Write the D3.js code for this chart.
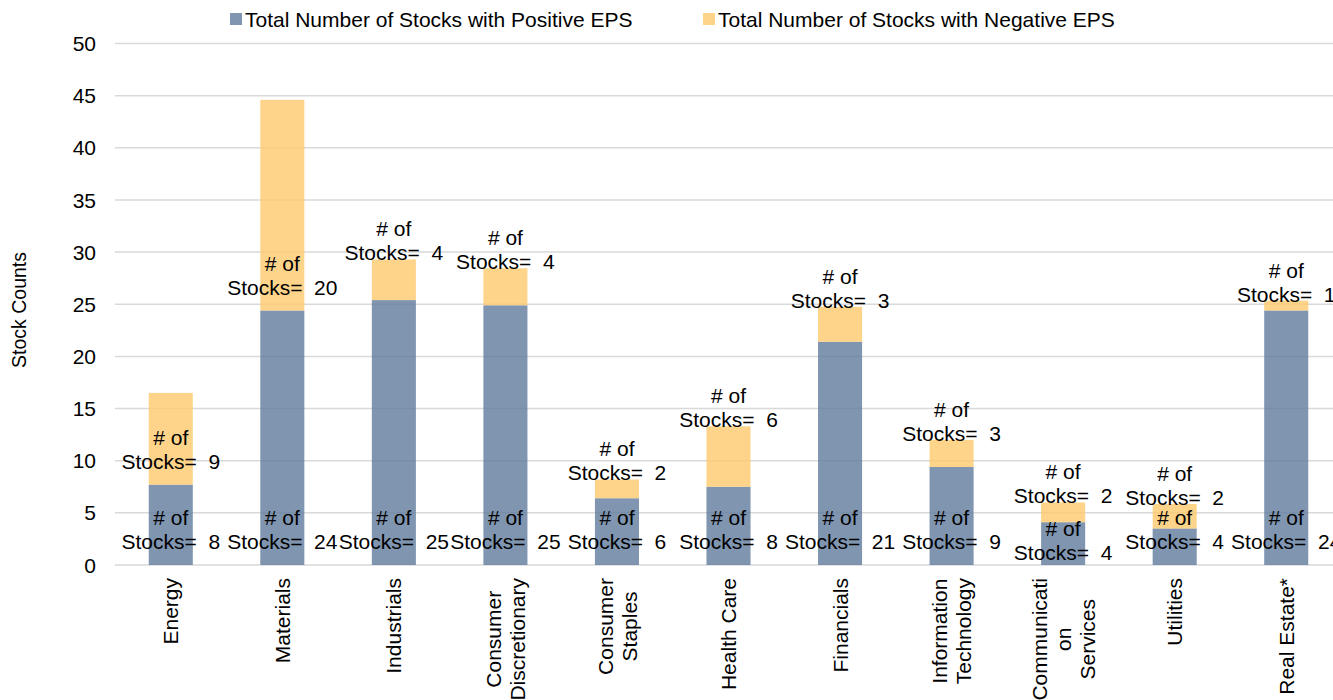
<!DOCTYPE html>
<html>
<head>
<meta charset="utf-8">
<script src="https://cdn.jsdelivr.net/npm/d3@7"></script>
<style>
  html, body { margin: 0; padding: 0; background: #fff; }
  svg { display: block; font-family: "Liberation Sans", Arial, sans-serif; }
</style>
</head>
<body>
<svg id="chart" width="1333" height="700"></svg>
<script>
// ---- data ----
const categories = ["Energy", "Materials", "Industrials", "Consumer\nDiscretionary", "Consumer\nStaples",
  "Health Care", "Financials", "Information\nTechnology", "Communicati\non\nServices", "Utilities", "Real Estate*"];
const positiveValues = [7.7, 24.4, 25.4, 24.9, 6.4, 7.5, 21.4, 9.4, 4.1, 3.5, 24.4];
const negativeValues = [8.8, 20.2, 3.9, 3.55, 1.8, 5.8, 3.35, 2.6, 1.9, 2.35, 0.95];
const positiveCounts = [8, 24, 25, 25, 6, 8, 21, 9, 4, 4, 24];
const negativeCounts = [9, 20, 4, 4, 2, 6, 3, 3, 2, 2, 1];
const seriesNames = ["Total Number of Stocks with Positive EPS", "Total Number of Stocks with Negative EPS"];
const yTicks = [0, 5, 10, 15, 20, 25, 30, 35, 40, 45, 50];
const yTitle = "Stock Counts";

// ---- layout ----
const colors = ["#5f7a9c", "#fec96d"];
const barOpacity = 0.8;
const fontSize = 21;
const svg = d3.select("#chart");

const x = d3.scaleBand().domain(categories).range([115, 1342]).paddingInner(0.605).paddingOuter(0.3025);
const y = d3.scaleLinear().domain([0, 50]).range([565, 43.5]);

// gridlines
svg.append("g").selectAll("line").data(yTicks).join("line")
  .attr("x1", 115).attr("x2", 1333)
  .attr("y1", d => y(d)).attr("y2", d => y(d))
  .attr("stroke", "#d9d9d9").attr("stroke-width", 1.5);

// y axis labels
svg.append("g").selectAll("text").data(yTicks).join("text")
  .attr("x", 96).attr("y", d => y(d)).attr("dy", "0.36em")
  .attr("text-anchor", "end").attr("font-size", fontSize).attr("fill", "#000")
  .text(d => d);

// y title
svg.append("text")
  .attr("transform", "translate(26,310) rotate(-90)")
  .attr("text-anchor", "middle").attr("font-size", 19.5).attr("fill", "#000")
  .text(yTitle);

// stacked bars
const rows = categories.map((c, i) => ({ cat: c, pos: positiveValues[i], neg: negativeValues[i] }));
const stack = d3.stack().keys(["pos", "neg"])(rows);
const gBars = svg.append("g");
stack.forEach((layer, li) => {
  gBars.append("g").attr("fill", colors[li]).attr("fill-opacity", barOpacity)
    .selectAll("rect").data(layer).join("rect")
    .attr("x", d => x(d.data.cat))
    .attr("width", x.bandwidth())
    .attr("y", d => y(d[1]))
    .attr("height", d => y(d[0]) - y(d[1]));
});

// data labels
const lineGap = 24;
const posNudge = { "Communicati\non\nServices": 11 };
const negNudge = { "Energy": 75, "Materials": 194 };
function label(cx, baseline2, count) {
  const g = svg.append("g").attr("font-size", fontSize).attr("fill", "#000").attr("text-anchor", "middle");
  g.append("text").attr("x", cx).attr("y", baseline2 - lineGap).text("# of");
  g.append("text").attr("x", cx).attr("y", baseline2).style("white-space", "pre").text("Stocks=  " + count);
}
categories.forEach((c, i) => {
  const cx = x(c) + x.bandwidth() / 2;
  label(cx, y(0) - 16.5 + (posNudge[c] || 0), positiveCounts[i]);
  const top = y(positiveValues[i] + negativeValues[i]);
  label(cx, top + 1 + (negNudge[c] || 0), negativeCounts[i]);
});

// category labels (rotated)
categories.forEach(c => {
  const cx = x(c) + x.bandwidth() / 2;
  const lines = c.split("\n");
  const g = svg.append("g").attr("transform", `translate(${cx},578) rotate(-90)`)
    .attr("font-size", fontSize).attr("fill", "#000");
  const texts = lines.map((ln, k) => g.append("text")
    .attr("y", (k - (lines.length - 1) / 2) * lineGap).attr("dy", "0.36em")
    .attr("text-anchor", "middle").text(ln));
  const maxW = d3.max(texts, t => t.node().getComputedTextLength());
  texts.forEach(t => t.attr("x", -maxW / 2));
});

// legend
const legendX = [230, 703];
seriesNames.forEach((name, i) => {
  svg.append("rect").attr("x", legendX[i]).attr("y", 13).attr("width", 12).attr("height", 12)
    .attr("fill", colors[i]).attr("fill-opacity", barOpacity);
  svg.append("text").attr("x", legendX[i] + 15).attr("y", 19).attr("dy", "0.36em")
    .attr("font-size", fontSize).attr("fill", "#000").text(name);
});
</script>
</body>
</html>
